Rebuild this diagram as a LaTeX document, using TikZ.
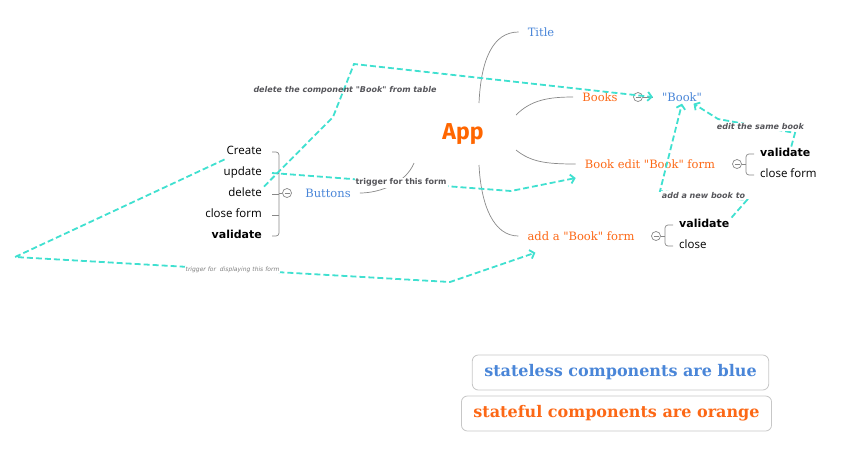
\documentclass[tikz,border=0pt]{standalone}
\usepackage{fontspec}
\setmainfont{DejaVu Serif}
\newfontfamily\slabfont{DejaVu Serif}
\newfontfamily\leaffont{Open Sans}
\newfontfamily\verdfont{DejaVu Sans}
\newfontfamily\appfont{Fira Sans}
\usetikzlibrary{arrows.meta,calc}
\definecolor{statelesscol}{RGB}{74,134,216}
\definecolor{statefulcol}{RGB}{252,104,22}
\definecolor{appcol}{RGB}{255,102,0}
\definecolor{linkcol}{RGB}{64,224,208}
\definecolor{branchcol}{RGB}{136,136,136}
\definecolor{notecol}{RGB}{85,85,90}

\begin{document}
\begin{tikzpicture}[x=1pt,y=-1pt,
	comp/.style={font=\slabfont\fontsize{11.5}{13}\selectfont, inner xsep=9pt, inner ysep=2pt},
	stateless/.style={comp, text=statelesscol},
	stateful/.style={comp, text=statefulcol},
	leaf/.style={font=\leaffont\fontsize{11.5}{13}\selectfont, inner sep=2pt, text height=8pt, text depth=2.5pt},
	leafbold/.style={leaf, font=\verdfont\bfseries\fontsize{11}{13}\selectfont},
	branch/.style={draw=branchcol, line width=0.7pt},
	toggle/.style={circle, draw=branchcol, line width=0.7pt, minimum size=9pt, inner sep=0pt,
		path picture={\draw[branchcol, line width=0.7pt] ([xshift=-2.5pt]path picture bounding box.center) -- ([xshift=2.5pt]path picture bounding box.center);}},
	link/.style={draw=linkcol, line width=1.8pt, dash pattern=on 6pt off 3pt, -{Straight Barb[length=4pt,width=9pt]}},
	note/.style={font=\verdfont\bfseries\fontsize{8}{9}\selectfont, text=notecol, fill=white, inner sep=1pt},
	slanted note/.style={note, font=\verdfont\bfseries\itshape\fontsize{8}{9}\selectfont},
	faint note/.style={note, text=gray, font=\verdfont\itshape\fontsize{6}{7}\selectfont},
	legend/.style={draw=black!22, rounded corners=6pt, line width=0.8pt, minimum height=35pt, inner xsep=12pt, font=\bfseries\fontsize{16}{18}\selectfont}]
	\useasboundingbox (0,0) rectangle (845,448);

	\node[font=\appfont\bfseries\fontsize{23}{26}\selectfont, text=appcol] (app) at (463,134) {App};
	\node[stateless] (title) at (541,32) {Title};
	\node[stateful] (books) at (600,97) {Books};
	\node[toggle] (tbooks) at (638,97) {};
	\node[stateless] (book) at (682,97) {"Book"};
	\node[stateful] (editform) at (650,164) {Book edit "Book" form};
	\node[toggle] (tedit) at (737,164) {};
	\node[leafbold, anchor=west] (editok) at (758,154) {validate};
	\node[leaf, anchor=west] (editclose) at (758,175) {close form};
	\node[stateful] (addform) at (581,236) {add a "Book" form};
	\node[toggle] (tadd) at (656,236) {};
	\node[leafbold, anchor=west] (addok) at (677,225) {validate};
	\node[leaf, anchor=west] (addclose) at (677,246) {close};
	\node[stateless] (buttons) at (328,193) {Buttons};
	\node[toggle] (tbuttons) at (287,193) {};
	\node[leaf, anchor=east] (create) at (264,152) {Create};
	\node[leaf, anchor=east] (update) at (264,173) {update};
	\node[leaf, anchor=east] (delete) at (264,194) {delete};
	\node[leaf, anchor=east] (closeform) at (264,215) {close form};
	\node[leafbold, anchor=east] (validate) at (264,236) {validate};

	\coordinate (app-title) at ($(app)+(16,-31)$);
	\coordinate (app-books) at ($(app)+(53,-19)$);
	\coordinate (app-edit) at ($(app)+(53,16)$);
	\coordinate (app-add) at ($(app)+(16,31)$);
	\coordinate (app-buttons) at ($(app)+(-49,29)$);
	\draw[branch] (app-title) .. controls +(2,-43) and +(-26,0) .. (title.west);
	\draw[branch] (app-books) .. controls +(15,-15) and +(-25,0) .. (books.west);
	\draw[branch] (app-edit) .. controls +(15,12) and +(-30,0) .. (editform.west);
	\draw[branch] (app-add) .. controls +(2,40) and +(-25,0) .. (addform.west);
	\draw[branch] (app-buttons) .. controls +(-8,20) and +(20,0) .. (buttons.east);

	\draw[branch] (tbooks) -- (book.west);
	\coordinate (editbr) at (746,164);
	\draw[branch] (tedit) -- (editbr);
	\draw[branch, rounded corners=3pt] ([xshift=-4pt]editok.west) -| (editbr) |- ([xshift=-4pt]editclose.west);
	\coordinate (addbr) at (665,236);
	\draw[branch] (tadd) -- (addbr);
	\draw[branch, rounded corners=3pt] ([xshift=-4pt]addok.west) -| (addbr) |- ([xshift=-4pt]addclose.west);
	\coordinate (buttonsbr) at (279,193);
	\draw[branch] (tbuttons) -- (buttonsbr);
	\draw[branch, rounded corners=3pt] ([xshift=8pt]create.east) -| (buttonsbr) |- ([xshift=8pt]validate.east);
	\foreach \n in {update,delete,closeform}
		\draw[branch] ([xshift=8pt]\n.east) -- (buttonsbr |- \n.east);

	\draw[link] (delete.north east) -- (333,117) -- (354,64) -- (book.west);
	\node[slanted note, fill=none] (delnote) at (345,90) {delete the component "Book" from table};
	\draw[link] ([xshift=8pt]update.east) -- node[note, pos=0.54] {trigger for this form} (511,191) -- ([yshift=-14pt]editform.west);
	\draw[link] (create.south west) -- (15,257) -- node[faint note, pos=0.5] {trigger for~ displaying this form} (450,282) -- ([shift={(17,10)}]addform.south west);
	\draw[link] (addok.north east) -- (747,200) -- node[slanted note, pos=0.5] {add a new book to} (660,191) -- (book.south);
	\draw[link] ([xshift=6pt]editok.north) -- (795,133) -- node[slanted note, pos=0.45] {edit the same book} (718,119) -- (book.-30);

	\node[legend, text=statelesscol] (statelessnote) at (620.5,372.5) {stateless components are blue};
	\node[legend, text=statefulcol] (statefulnote) at (616.5,413.5) {stateful components are orange};
\end{tikzpicture}
\end{document}
